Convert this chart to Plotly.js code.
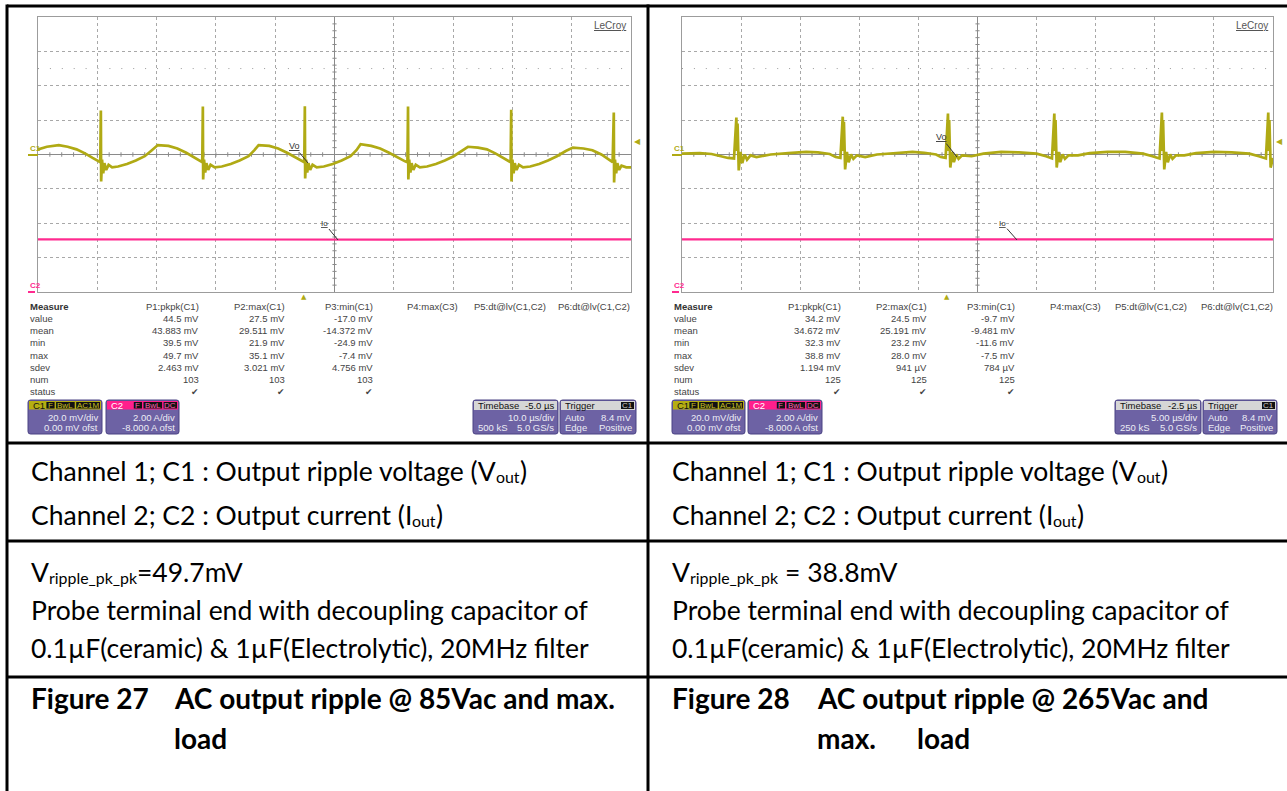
<!DOCTYPE html>
<html><head><meta charset="utf-8">
<script src="https://cdn.plot.ly/plotly-3.0.1.min.js"></script>
<style>html,body{margin:0;padding:0;background:#fff;} #chart{width:1287px;height:791px;}</style>
</head><body><div id="chart"></div>
<script>
// ---------------- DATA ----------------
// Figure 27: C1 output ripple voltage (time in µs, trigger at 0; value in mV)
const fig27_c1_t = [-45.0,-43.5,-41.5,-40.0,-38.5,-37.0,-35.8,-34.9,-34.5,-34.4,-34.35,-34.2,-34.0,-33.8,-33.5,-33.1,-32.5,-31.5,-30.0,-28.5,-27.0,-25.8,-24.8,-23.0,-21.5,-20.0,-18.5,-17.6,-17.3,-17.2,-17.15,-17.0,-16.8,-16.6,-16.3,-15.9,-15.2,-14.0,-12.5,-11.0,-9.5,-8.5,-7.8,-6.0,-4.5,-3.0,-1.5,-0.4,-0.1,0.0,0.05,0.2,0.4,0.6,0.9,1.3,2.0,3.2,4.7,6.2,7.7,8.7,9.4,11.2,12.7,14.2,15.7,16.9,17.3,17.4,17.45,17.6,17.8,18.0,18.3,18.7,19.4,20.6,22.1,23.6,25.1,26.3,27.5,29.2,30.7,32.2,33.5,34.4,34.7,34.8,34.85,35.0,35.2,35.4,35.7,36.1,36.8,38.0,39.5,41.0,42.5,44.0,45.2,47.0,48.5,50.0,51.2,51.9,52.1,52.15,52.3,52.5,52.7,53.0,53.4,54.2,55.0];
const fig27_c1_mv = [3.0,4.5,5.5,4.5,3.0,0.5,-2.0,-4.0,-4.5,25.6,-15.7,-3,-11,-5,-9,-6,-7.5,-7,-5.5,-3.5,-1,2.5,5.5,5,3.5,1,-2,-4,-4.5,27.9,-14.5,-3,-10.5,-5,-9,-6,-7.5,-7,-5.5,-3.5,-1,2.5,5.5,5,3.5,1,-2,-4,-4.5,28,-14,-3,-10.5,-5,-9,-6,-7.5,-7,-5.5,-3.5,-1,2.5,6,5,3.5,1,-2,-4,-4.5,27.9,-14.5,-3,-10.5,-5,-9,-6,-7.5,-7,-5.5,-3.5,-1,2,4.5,4,3,0.5,-2,-4,-4.5,26,-15.7,-3,-11,-5,-9,-6,-7.5,-7,-5.5,-3.5,-1,2,4,3.5,2.5,0,-3,-4.5,24.4,-16.3,-3,-11,-5,-9,-6.5,-7.5,-7.5];
// Figure 27: C2 output current (A)
const fig27_c2_t = [-45,-30,-15,0,15,30,45,55];
const fig27_c2_a = [3.06,3.05,3.06,3.06,3.05,3.06,3.06,3.06];

// Figure 28: C1 output ripple voltage (µs, mV)
const fig28_c1_t = [-22.5,-21.0,-20.0,-19.2,-18.6,-18.1,-17.9,-17.85,-17.8,-17.7,-17.55,-17.4,-17.2,-17.0,-16.7,-16.2,-15.0,-13.5,-12.0,-11.0,-10.0,-9.5,-9.1,-8.9,-8.85,-8.8,-8.7,-8.55,-8.4,-8.2,-8.0,-7.7,-7.0,-6.0,-4.5,-3.0,-2.0,-1.0,-0.6,-0.2,0.0,0.05,0.1,0.2,0.35,0.5,0.7,0.9,1.2,2.0,3.0,4.5,6.0,7.5,8.3,8.8,9.0,9.05,9.1,9.2,9.35,9.5,9.7,9.9,10.2,11.0,12.0,13.5,15.0,16.5,17.3,17.9,18.1,18.15,18.2,18.3,18.45,18.6,18.8,19.0,19.3,20.0,21.0,22.5,24.0,25.5,26.3,26.9,27.1,27.15,27.2,27.3,27.5];
const fig28_c1_mv = [0.5,0.8,0.3,-1.0,-2.0,-2.3,21.5,2,18,-9.3,1.5,-5,0,-3,-0.5,-1.5,0,0.8,1.5,1.2,0.3,-1.5,-2,22,2,19,-8.7,1.5,-4.5,0,-2.5,-0.5,-1.5,0,0.8,1.5,1.0,0,-1.5,-2,23.8,2,20,-7.6,1.5,-4.5,0,-2.5,-0.5,-1,0.5,1.5,1.2,0.5,-1,-2.3,23.8,2,20,-7.6,1.5,-4.5,0,-2.5,-0.5,-0.5,0.8,1.5,1.5,0.5,-1,-2.3,24.4,2,20,-8.7,1.5,-4.5,0,-2.5,-0.5,-0.5,0.8,1.5,1.2,0.5,-1,-2.3,24.4,2,20,-7.6,-2];
// Figure 28: C2 output current (A)
const fig28_c2_t = [-22.5,-15,-7.5,0,7.5,15,22.5,27.5];
const fig28_c2_a = [3.06,3.06,3.05,3.06,3.06,3.05,3.06,3.06];

// Measurement table
const measureRows = ['value','mean','min','max','sdev','num','status'];
const measureHeaders = ['P1:pkpk(C1)','P2:max(C1)','P3:min(C1)','P4:max(C3)','P5:dt@lv(C1,C2)','P6:dt@lv(C1,C2)'];
const fig27_P1 = ['44.5 mV','43.883 mV','39.5 mV','49.7 mV','2.463 mV','103','✔'];
const fig27_P2 = ['27.5 mV','29.511 mV','21.9 mV','35.1 mV','3.021 mV','103','✔'];
const fig27_P3 = ['-17.0 mV','-14.372 mV','-24.9 mV','-7.4 mV','4.756 mV','103','✔'];
const fig28_P1 = ['34.2 mV','34.672 mV','32.3 mV','38.8 mV','1.194 mV','125','✔'];
const fig28_P2 = ['24.5 mV','25.191 mV','23.2 mV','28.0 mV','941 µV','125','✔'];
const fig28_P3 = ['-9.7 mV','-9.481 mV','-11.6 mV','-7.5 mV','784 µV','125','✔'];

// Channel / timebase / trigger settings
const ch1Tags = ['F','BwL','AC1M'];
const ch2Tags = ['F','BwL','DC'];
const ch1Setup = ['20.0 mV/div','0.00 mV ofst'];
const ch2Setup = ['2.00 A/div','-8.000 A ofst'];
const fig27_timebase = ['-5.0 µs','10.0 µs/div','500 kS','5.0 GS/s'];
const fig28_timebase = ['-2.5 µs','5.00 µs/div','250 kS','5.0 GS/s'];
const triggerSetup = ['Auto','8.4 mV','Edge','Positive'];

// Caption texts (pieces: [text, isSubscript])
const captionCh1 = [['Channel 1; C1 : Output ripple voltage (V', 0], ['out', 1], [')', 0]];
const captionCh2 = [['Channel 2; C2 : Output current (I', 0], ['out', 1], [')', 0]];
const fig27_ripple = [['V', 0], ['ripple_pk_pk', 1], ['=49.7mV', 0]];
const fig28_ripple = [['V', 0], ['ripple_pk_pk', 1], [' = 38.8mV', 0]];
const probeNote = ['Probe terminal end with decoupling capacitor of', '0.1µF(ceramic) & 1µF(Electrolytic), 20MHz filter'];
const fig27_title = ['Figure 27','AC output ripple @ 85Vac and max.','load'];
const fig28_title = ['Figure 28','AC output ripple @ 265Vac and','max.','load'];

// ---------------- LAYOUT HELPERS ----------------
const W = 1287, H = 791;
const X = p => p / W, Y = p => 1 - p / H;
const shapes = [], ann = [];
const SANS = 'Liberation Sans, Arial, sans-serif';
const SYM = 'DejaVu Sans, sans-serif';
const DOC = 'Lato, Roboto, sans-serif';
const OLIVE = '#b0aa14', PINK = '#ff2a8f';
const ctx = document.createElement('canvas').getContext('2d');

function pline(x0, y0, x1, y1, color, width, dash) {
  shapes.push({type:'line', xref:'paper', yref:'paper', x0:X(x0), y0:Y(y0), x1:X(x1), y1:Y(y1),
    line:{color:color, width:width, dash:dash || 'solid'}});
}
function prect(x0, y0, x1, y1, fill) {
  shapes.push({type:'rect', xref:'paper', yref:'paper', x0:X(x0), y0:Y(y0), x1:X(x1), y1:Y(y1),
    fillcolor:fill, line:{width:0}});
}
function rrect(x0, y0, x1, y1, r, fill, lc) {
  const P = (a, b) => X(a) + ',' + Y(b);
  const path = 'M' + P(x0 + r, y0) + ' L' + P(x1 - r, y0) + ' Q' + P(x1, y0) + ' ' + P(x1, y0 + r) +
    ' L' + P(x1, y1 - r) + ' Q' + P(x1, y1) + ' ' + P(x1 - r, y1) + ' L' + P(x0 + r, y1) +
    ' Q' + P(x0, y1) + ' ' + P(x0, y1 - r) + ' L' + P(x0, y0 + r) + ' Q' + P(x0, y0) + ' ' + P(x0 + r, y0) + ' Z';
  shapes.push({type:'path', xref:'paper', yref:'paper', path:path, fillcolor:fill, line:{color:lc, width:1}});
}
function txt(x, y, t, size, color, anchor, family, extra) {
  const a = {xref:'paper', yref:'paper', x:X(x), y:Y(y), text:t, showarrow:false,
    xanchor:anchor || 'left', yanchor:'middle',
    font:{family:family || SANS, size:size, color:color}};
  if (extra) Object.assign(a.font, extra);
  ann.push(a);
}
// a line of document text with real subscripts drawn as separate smaller texts
function richLine(x, y, parts, size) {
  let cx = x;
  parts.forEach(([t, sub]) => {
    const fs = sub ? size * 0.6 : size;
    ctx.font = fs + 'px Lato';
    const lead = t.length - t.replace(/^\s+/, '').length;
    const leadW = lead ? ctx.measureText(t.slice(0, lead)).width : 0;
    const body = t.trim();
    txt(cx + leadW, sub ? y + size * 0.2 : y, body, fs, '#000', 'left', DOC);
    cx += ctx.measureText(t).width;
  });
}

function chanBox(x0, x1, stripColor, title, titleColor, tags, tagColor, lines) {
  rrect(x0, 400, x1, 434, 2.5, '#6d62a4', '#4a4283');
  prect(x0 + 1, 401, x1 - 1, 409.5, stripColor);
  txt(x0 + 3, 405.3, title, 9.5, titleColor);
  let xr = x1 - 2;
  for (let i = tags.length - 1; i >= 0; i--) {
    const w = tags[i].length * 5.2 + 3;
    prect(xr - w, 402, xr, 408.5, '#111');
    txt(xr - w / 2, 405.3, tags[i], 8, tagColor, 'center');
    xr -= w + 1.5;
  }
  txt(x1 - 2, 417.5, lines[0], 9.5, '#ececf4', 'right');
  txt(x1 - 2, 427.5, lines[1], 9.5, '#ececf4', 'right');
}
function timeBox(x0, x1, tb) {
  rrect(x0, 400, x1, 434, 2.5, '#6d62a4', '#4a4283');
  prect(x0 + 1, 401, x1 - 1, 410, '#d6d6d6');
  txt(x0 + 3, 405.5, 'Timebase', 9.5, '#111');
  txt(x1 - 2, 405.5, tb[0], 9.5, '#111', 'right');
  txt(x1 - 2, 417.5, tb[1], 9.5, '#ececf4', 'right');
  txt(x0 + 3, 427.5, tb[2], 9.5, '#ececf4');
  txt(x1 - 2, 427.5, tb[3], 9.5, '#ececf4', 'right');
}
function trigBox(x0, x1, tr) {
  rrect(x0, 400, x1, 434, 2.5, '#6d62a4', '#4a4283');
  prect(x0 + 1, 401, x1 - 1, 410, '#d6d6d6');
  txt(x0 + 3, 405.5, 'Trigger', 9.5, '#111');
  prect(x1 - 15, 402, x1 - 2, 409, '#111');
  txt(x1 - 8.5, 405.5, 'C1', 8, '#cccccc', 'center');
  txt(x0 + 3, 417.5, tr[0], 9.5, '#ececf4');
  txt(x1 - 2, 417.5, tr[1], 9.5, '#ececf4', 'right');
  txt(x0 + 3, 427.5, tr[2], 9.5, '#ececf4');
  txt(x1 - 2, 427.5, tr[3], 9.5, '#ececf4', 'right');
}

function scopePanel(cfg) {
  const xr = cfg.xrange, dx = (xr[1] - xr[0]) / 10, xc = (xr[0] + xr[1]) / 2;
  shapes.push({type:'line', xref:cfg.xa, yref:cfg.ya, x0:xr[0], x1:xr[1], y0:50, y1:50, layer:'between',
    line:{color:'#9a9a9a', width:1, dash:'1px,10.9px'}});
  shapes.push({type:'line', xref:cfg.xa, yref:cfg.ya, x0:xr[0], x1:xr[1], y0:0, y1:0, layer:'between', line:{color:'#8a8a8a', width:1}});
  shapes.push({type:'line', xref:cfg.xa, yref:cfg.ya, x0:xc, x1:xc, y0:-80, y1:80, layer:'between', line:{color:'#8a8a8a', width:1}});
  for (let k = 1; k < 50; k++) {
    const xt = xr[0] + k * dx / 5;
    shapes.push({type:'line', xref:cfg.xa, yref:cfg.ya, x0:xt, x1:xt, y0:-1.3, y1:1.3, layer:'between', line:{color:'#8a8a8a', width:1}});
  }
  for (let k = 1; k < 40; k++) {
    const yt = -80 + k * 4;
    shapes.push({type:'line', xref:cfg.xa, yref:cfg.ya, x0:xc - dx * 0.035, x1:xc + dx * 0.035, y0:yt, y1:yt, layer:'between', line:{color:'#8a8a8a', width:1}});
  }
  txt(cfg.left - 10, 148.5, 'C1', 8, OLIVE, 'left', SANS, {weight:'bold'});
  pline(cfg.left - 10, 155, cfg.left, 155, OLIVE, 2);
  txt(cfg.left - 10, 286, 'C2', 8, PINK, 'left', SANS, {weight:'bold'});
  pline(cfg.left - 10, 292, cfg.left - 3, 292, PINK, 2);
  txt(cfg.right + 1, 141, '◀', 8, OLIVE, 'left', SYM);
  txt(cfg.trigX, 296.5, '▲', 7, OLIVE, 'center', SYM);
  txt(cfg.right - 3, 25, 'LeCroy', 10, '#555', 'right', SANS, {lineposition:'under'});
  ann.push({xref:'paper', yref:'paper', x:X(cfg.vo[2]), y:Y(cfg.vo[3]), ax:cfg.vo[0] - cfg.vo[2], ay:cfg.vo[1] - cfg.vo[3],
    text:'Vo', showarrow:true, arrowhead:0, arrowwidth:1, arrowcolor:'#333', standoff:0,
    font:{family:SANS, size:9, color:'#333', lineposition:'under'}});
  ann.push({xref:'paper', yref:'paper', x:X(cfg.io[2]), y:Y(cfg.io[3]), ax:cfg.io[0] - cfg.io[2], ay:cfg.io[1] - cfg.io[3],
    text:'Io', showarrow:true, arrowhead:0, arrowwidth:1, arrowcolor:'#333', standoff:0,
    font:{family:SANS, size:8, color:'#333', lineposition:'under'}});
  txt(cfg.labelX, 306, 'Measure', 9.5, '#333', 'left', SANS, {weight:'bold'});
  const rowY = [318.5, 330.7, 342.9, 355.1, 367.3, 379.5, 391.7];
  measureRows.forEach((r, i) => txt(cfg.labelX, rowY[i], r, 9.5, '#444'));
  measureHeaders.forEach((h, j) => txt(cfg.colRight[j], 306, h, 9.5, '#444', 'right'));
  cfg.cols.forEach((col, j) => col.forEach((v, i) =>
    txt(cfg.colRight[j], rowY[i], v, i === 6 ? 9 : 9.5, '#444', 'right', i === 6 ? SYM : SANS)));
  chanBox(cfg.c1Box[0], cfg.c1Box[1], '#b5ae12', 'C1', '#111', ch1Tags, '#c8c020', ch1Setup);
  chanBox(cfg.c2Box[0], cfg.c2Box[1], '#ff1f8c', 'C2', '#ffffff', ch2Tags, '#ff5fae', ch2Setup);
  timeBox(cfg.tbBox[0], cfg.tbBox[1], cfg.tb);
  trigBox(cfg.trBox[0], cfg.trBox[1], triggerSetup);
}

scopePanel({xa:'x', ya:'y', xrange:[-45, 55], left:38, right:631, trigX:304, labelX:28,
  colRight:[201, 287, 375, 460, 548, 632], cols:[fig27_P1, fig27_P2, fig27_P3],
  c1Box:[28, 102], c2Box:[106, 179], tbBox:[473, 558], trBox:[560, 636], tb:fig27_timebase,
  vo:[294, 146, 308, 163], io:[324, 223, 338, 240]});
scopePanel({xa:'x2', ya:'y3', xrange:[-22.5, 27.5], left:682, right:1273, trigX:947, labelX:672,
  colRight:[843, 929, 1017, 1103, 1189, 1275], cols:[fig28_P1, fig28_P2, fig28_P3],
  c1Box:[672, 745], c2Box:[748, 822], tbBox:[1115, 1201], trBox:[1203, 1277], tb:fig28_timebase,
  vo:[941, 137, 957, 157], io:[1002, 223, 1017, 240]});

// table borders
pline(7, 6, 1287, 6, '#000', 3);
pline(7, 4.5, 7, 791, '#000', 3);
pline(648, 4.5, 648, 791, '#000', 3);
pline(7, 443, 1287, 443, '#000', 3);
pline(7, 541, 1287, 541, '#000', 3);
pline(7, 677, 1287, 677, '#000', 3);

// caption cells
const DS = 26.5, BS = 28, BOLD = {weight:'bold'};
[[29, fig27_ripple], [670, fig28_ripple]].forEach(([x0, rip]) => {
  richLine(x0, 471, captionCh1, DS);
  richLine(x0, 515, captionCh2, DS);
  richLine(x0, 572, rip, DS);
  txt(x0, 610, probeNote[0], DS, '#000', 'left', DOC);
  txt(x0, 648, probeNote[1], DS, '#000', 'left', DOC);
});
txt(29, 698, fig27_title[0], BS, '#000', 'left', DOC, BOLD);
txt(172, 698, fig27_title[1], BS, '#000', 'left', DOC, BOLD);
txt(172, 738, fig27_title[2], BS, '#000', 'left', DOC, BOLD);
txt(670, 698, fig28_title[0], BS, '#000', 'left', DOC, BOLD);
txt(815, 698, fig28_title[1], BS, '#000', 'left', DOC, BOLD);
txt(815, 738, fig28_title[2], BS, '#000', 'left', DOC, BOLD);
txt(915, 738, fig28_title[3], BS, '#000', 'left', DOC, BOLD);

// ---------------- AXES & TRACES ----------------
const gridAxis = (dom, rng, dt) => ({domain:dom, range:rng, tick0:rng[0], dtick:dt, showgrid:true,
  gridcolor:'#a8a8a8', griddash:'dot', gridwidth:1, zeroline:false, showticklabels:false, ticks:'',
  showline:true, mirror:true, linecolor:'#9c9c9c', linewidth:1, fixedrange:true});
const yDom = [Y(292), Y(17)];
const layout = {
  width:W, height:H, margin:{l:0, r:0, t:0, b:0}, paper_bgcolor:'#fff', plot_bgcolor:'#fff', showlegend:false,
  xaxis: Object.assign(gridAxis([X(38), X(631)], [-45, 55], 10), {anchor:'y'}),
  yaxis: Object.assign(gridAxis(yDom, [-80, 80], 20), {anchor:'x'}),
  yaxis2: {overlaying:'y', anchor:'x', range:[0, 16], visible:false, fixedrange:true},
  xaxis2: Object.assign(gridAxis([X(682), X(1273)], [-22.5, 27.5], 5), {anchor:'y3'}),
  yaxis3: Object.assign(gridAxis(yDom, [-80, 80], 20), {anchor:'x2'}),
  yaxis4: {overlaying:'y3', anchor:'x2', range:[0, 16], visible:false, fixedrange:true},
  shapes:shapes, annotations:ann
};
const traces = [
  {x:fig27_c2_t, y:fig27_c2_a, xaxis:'x', yaxis:'y2', mode:'lines', line:{color:PINK, width:2.2}, hoverinfo:'skip'},
  {x:fig27_c1_t, y:fig27_c1_mv, xaxis:'x', yaxis:'y', mode:'lines', line:{color:OLIVE, width:2.7}, hoverinfo:'skip'},
  {x:fig28_c2_t, y:fig28_c2_a, xaxis:'x2', yaxis:'y4', mode:'lines', line:{color:PINK, width:2.2}, hoverinfo:'skip'},
  {x:fig28_c1_t, y:fig28_c1_mv, xaxis:'x2', yaxis:'y3', mode:'lines', line:{color:OLIVE, width:2.7}, hoverinfo:'skip'}
];
Plotly.newPlot('chart', traces, layout, {staticPlot:true, displayModeBar:false});
</script></body></html>
